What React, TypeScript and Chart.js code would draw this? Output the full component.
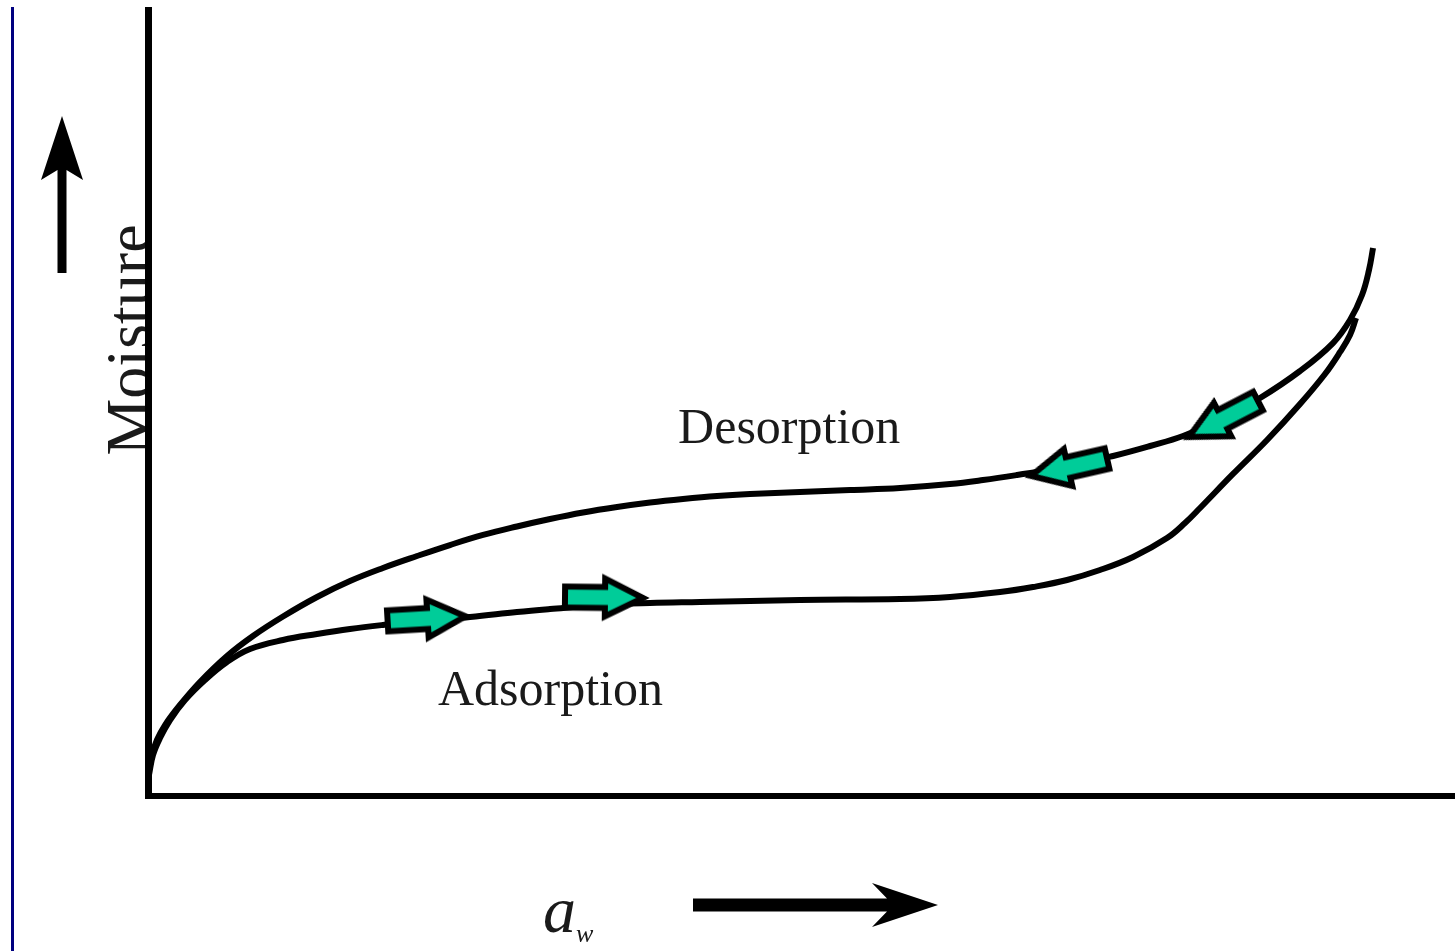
import React, { useEffect, useRef } from "react";
import { Chart, registerables } from "chart.js";

Chart.register(...registerables);

// ---- data (a_w on x, moisture in arbitrary units on y) ----
const desorptionAw = [
  0.0008, 0.0033, 0.0073, 0.0139, 0.0261, 0.0424, 0.0645, 0.0857, 0.1102, 0.138,
  0.1649, 0.1918, 0.2196, 0.2465, 0.2735, 0.3012, 0.3282, 0.3551, 0.3829, 0.4098,
  0.4367, 0.4645, 0.4914, 0.5322, 0.5731, 0.6139, 0.6547, 0.6816, 0.7094, 0.7445,
  0.7878, 0.818, 0.8449, 0.8751, 0.9078, 0.9404, 0.9673, 0.9812, 0.991, 0.9967, 1.0,
];
const desorptionMoisture = [
  3.31, 5.22, 7.12, 9.03, 11.58, 14.5, 17.81, 20.36, 22.84, 25.32,
  27.35, 29.01, 30.53, 31.93, 33.21, 34.29, 35.24, 36.07, 36.77, 37.34,
  37.79, 38.17, 38.42, 38.68, 38.93, 39.19, 39.69, 40.2, 40.84, 41.73,
  43.26, 44.53, 45.8, 47.84, 50.64, 54.07, 57.63, 60.56, 63.74, 66.92, 69.72,
];
const adsorptionAw = [
  0.0008, 0.0041, 0.0098, 0.018, 0.0302, 0.0465, 0.0645, 0.0833, 0.1102, 0.138,
  0.1649, 0.1918, 0.2302, 0.2629, 0.3012, 0.3282, 0.369, 0.4098, 0.4506, 0.5322,
  0.6139, 0.6547, 0.6955, 0.7224, 0.7502, 0.7771, 0.8041, 0.8318, 0.8465, 0.8588,
  0.8857, 0.9135, 0.9404, 0.9608, 0.9731, 0.9812, 0.9861,
];
const adsorptionMoisture = [
  2.67, 5.22, 7.38, 9.67, 12.21, 14.76, 17.05, 18.7, 19.85, 20.61,
  21.25, 21.76, 22.39, 22.77, 23.41, 23.79, 24.3, 24.55, 24.68, 24.94,
  25.06, 25.32, 25.95, 26.59, 27.48, 28.75, 30.41, 32.82, 34.73, 36.64,
  40.97, 45.29, 49.87, 53.69, 56.49, 58.65, 60.81,
];

// direction arrows: tail -> tip
const arrowTailAw = [0.1935, 0.3363, 0.7886, 0.9094];
const arrowTailMoisture = [22.26, 25.32, 43.13, 50.51];
const arrowTipAw = [0.2629, 0.4098, 0.7135, 0.8449];
const arrowTipMoisture = [22.9, 25.19, 40.46, 45.29];

// curve labels
const curveLabels = ["Desorption", "Adsorption"];
const curveLabelAw = [0.4327, 0.2367];
const curveLabelMoisture = [44.91, 11.58];

const yAxisTitle = "Moisture";
const xAxisTitleMain = "a";
const xAxisTitleSub = "w";

const AW_MAX = 1.0669;
const MOISTURE_MAX = 100;

function makeArrowImage(): HTMLCanvasElement {
  const c = document.createElement("canvas");
  c.width = 112;
  c.height = 60;
  const g = c.getContext("2d")!;
  const cx = 56;
  const cy = 30;
  const tail = -40;
  const tip = 38;
  const neck = 0;
  const bodyH = 10.5;
  const headH = 19;
  g.beginPath();
  g.moveTo(cx + tail, cy - bodyH);
  g.lineTo(cx + neck, cy - bodyH);
  g.lineTo(cx + neck, cy - headH);
  g.lineTo(cx + tip, cy);
  g.lineTo(cx + neck, cy + headH);
  g.lineTo(cx + neck, cy + bodyH);
  g.lineTo(cx + tail, cy + bodyH);
  g.closePath();
  g.fillStyle = "#00cc99";
  g.fill();
  g.lineWidth = 6;
  g.lineJoin = "miter";
  g.strokeStyle = "#000";
  g.stroke();
  return c;
}

const decorations = {
  id: "decorations",
  beforeDraw(chart: any) {
    const ctx = chart.ctx as CanvasRenderingContext2D;
    const area = chart.chartArea;
    ctx.save();
    ctx.fillStyle = "#fff";
    ctx.fillRect(0, 0, chart.width, chart.height);
    // rotated y-axis title (drawn under the axis line)
    ctx.translate(area.left + 2, (area.top + area.bottom) / 2 - 63);
    ctx.rotate(-Math.PI / 2);
    ctx.fillStyle = "#1a1a1a";
    ctx.font = "64px 'Liberation Serif', 'Times New Roman', serif";
    ctx.textAlign = "center";
    ctx.textBaseline = "alphabetic";
    ctx.fillText(yAxisTitle, 0, 0);
    ctx.restore();
  },
  afterDraw(chart: any) {
    const ctx = chart.ctx as CanvasRenderingContext2D;
    const area = chart.chartArea;
    const xs = chart.scales.x;
    const ys = chart.scales.y;
    ctx.save();

    // curve labels
    ctx.fillStyle = "#1a1a1a";
    ctx.font = "50px 'Liberation Serif', 'Times New Roman', serif";
    ctx.textAlign = "left";
    ctx.textBaseline = "alphabetic";
    curveLabels.forEach((t, i) => {
      ctx.fillText(t, xs.getPixelForValue(curveLabelAw[i]), ys.getPixelForValue(curveLabelMoisture[i]));
    });

    // x-axis title a_w
    const ax = area.left + 395;
    const ay = area.bottom + 136;
    ctx.font = "italic 66px 'Liberation Serif', 'Times New Roman', serif";
    ctx.fillText(xAxisTitleMain, ax, ay);
    const aw = ctx.measureText(xAxisTitleMain).width;
    ctx.font = "italic 26px 'Liberation Serif', 'Times New Roman', serif";
    ctx.fillText(xAxisTitleSub, ax + aw, ay + 10);

    // up arrow (moisture direction)
    ctx.fillStyle = "#000";
    const ux = area.left - 86;
    ctx.beginPath();
    ctx.moveTo(ux, 116);
    ctx.lineTo(ux + 21, 180);
    ctx.lineTo(ux + 4.5, 170);
    ctx.lineTo(ux + 4.5, 273);
    ctx.lineTo(ux - 4.5, 273);
    ctx.lineTo(ux - 4.5, 170);
    ctx.lineTo(ux - 21, 180);
    ctx.closePath();
    ctx.fill();

    // right arrow (a_w direction)
    const ry = area.bottom + 109;
    ctx.beginPath();
    ctx.moveTo(938, ry);
    ctx.lineTo(872, ry - 22);
    ctx.lineTo(887, ry - 6.5);
    ctx.lineTo(693, ry - 6.5);
    ctx.lineTo(693, ry + 6.5);
    ctx.lineTo(887, ry + 6.5);
    ctx.lineTo(872, ry + 22);
    ctx.closePath();
    ctx.fill();

    // thin navy frame line at left
    ctx.fillStyle = "#000080";
    ctx.fillRect(11, 7, 3, chart.height - 7);
    ctx.restore();
  },
};

export default function App() {
  const canvasRef = useRef<HTMLCanvasElement | null>(null);

  useEffect(() => {
    document.body.style.margin = "0";
    const canvas = canvasRef.current;
    if (!canvas) return;
    const arrowImg = makeArrowImage();

    const chart = new Chart(canvas, {
      type: "line",
      data: {
        datasets: [
          {
            label: "arrows",
            data: arrowTailAw.map((x, i) => ({
              x: (x + arrowTipAw[i]) / 2,
              y: (arrowTailMoisture[i] + arrowTipMoisture[i]) / 2,
            })),
            showLine: false,
            pointStyle: arrowImg as any,
            pointRadius: 20,
            pointRotation: ((c: any) => {
              if (c.type !== "data") return 0;
              const i = c.dataIndex;
              const sx = c.chart.scales.x;
              const sy = c.chart.scales.y;
              const dx = sx.getPixelForValue(arrowTipAw[i]) - sx.getPixelForValue(arrowTailAw[i]);
              const dy = sy.getPixelForValue(arrowTipMoisture[i]) - sy.getPixelForValue(arrowTailMoisture[i]);
              return (Math.atan2(dy, dx) * 180) / Math.PI;
            }) as any,
            order: 0,
            clip: false as any,
          },
          {
            label: "Desorption",
            data: desorptionAw.map((x, i) => ({ x, y: desorptionMoisture[i] })),
            borderColor: "#000",
            borderWidth: 6,
            pointRadius: 0,
            tension: 0.4,
            fill: false,
            order: 1,
            clip: false as any,
          },
          {
            label: "Adsorption",
            data: adsorptionAw.map((x, i) => ({ x, y: adsorptionMoisture[i] })),
            borderColor: "#000",
            borderWidth: 6,
            pointRadius: 0,
            tension: 0.4,
            fill: false,
            order: 2,
            clip: false as any,
          },
        ],
      },
      options: {
        animation: false,
        responsive: false,
        devicePixelRatio: 1,
        events: [],
        layout: { autoPadding: false, padding: { left: 148, top: 10, right: 0, bottom: 155 } },
        plugins: {
          legend: { display: false },
          tooltip: { enabled: false },
          title: { display: false },
        },
        scales: {
          x: {
            type: "linear",
            min: 0,
            max: AW_MAX,
            ticks: { display: false },
            grid: { display: false, drawTicks: false },
            border: { display: true, width: 6, color: "#000" },
          },
          y: {
            type: "linear",
            min: 0,
            max: MOISTURE_MAX,
            ticks: { display: false },
            grid: { display: false, drawTicks: false },
            border: { display: true, width: 7, color: "#000" },
          },
        },
      },
      plugins: [decorations],
    });
    return () => chart.destroy();
  }, []);

  return (
    <div style={{ position: "fixed", left: 0, top: 0, width: 1455, height: 951, background: "#fff" }}>
      <canvas ref={canvasRef} width={1455} height={951} style={{ display: "block" }} />
    </div>
  );
}
